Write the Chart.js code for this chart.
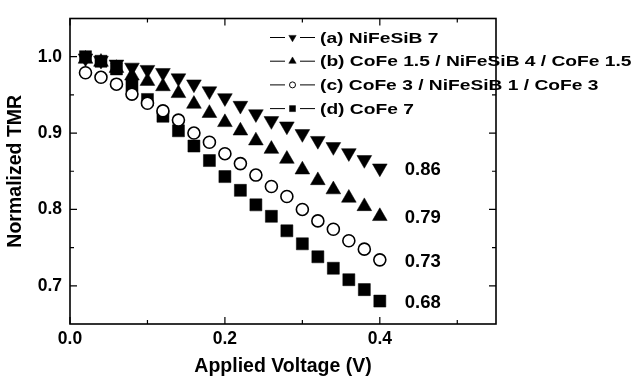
<!DOCTYPE html>
<html lang="en">
<head>
  <meta charset="UTF-8" />
  <title>Normalized TMR vs Applied Voltage</title>
  <script src="https://cdn.jsdelivr.net/npm/chart.js"></script>
  <style>
    html, body { margin: 0; padding: 0; background: #fff; }
    #chart { display: block; }
  </style>
</head>
<body>
  <canvas id="chart" width="634" height="378"></canvas>

<script>
  // data
  const voltage = [0.02, 0.04, 0.06, 0.08, 0.10, 0.12, 0.14, 0.16, 0.18, 0.20,
                   0.22, 0.24, 0.26, 0.28, 0.30, 0.32, 0.34, 0.36, 0.38, 0.40];
  const tmrA = [0.998, 0.995, 0.990, 0.986, 0.983, 0.979, 0.972, 0.964, 0.955, 0.946,
                0.936, 0.925, 0.916, 0.909, 0.899, 0.890, 0.882, 0.874, 0.865, 0.854];
  const tmrB = [0.997, 0.993, 0.985, 0.975, 0.968, 0.961, 0.952, 0.938, 0.926, 0.914,
                0.903, 0.890, 0.879, 0.866, 0.852, 0.838, 0.826, 0.815, 0.804, 0.791];
  const tmrC = [0.979, 0.973, 0.964, 0.951, 0.939, 0.929, 0.917, 0.900, 0.888, 0.873,
                0.860, 0.845, 0.830, 0.817, 0.800, 0.785, 0.774, 0.759, 0.748, 0.734];
  const tmrD = [1.000, 0.994, 0.984, 0.962, 0.944, 0.922, 0.903, 0.883, 0.864, 0.843,
                0.825, 0.806, 0.791, 0.772, 0.755, 0.738, 0.723, 0.708, 0.695, 0.680];

  const seriesNames = ["(a) NiFeSiB 7", "(b) CoFe 1.5 / NiFeSiB 4 / CoFe 1.5",
                       "(c) CoFe 3 / NiFeSiB 1 / CoFe 3", "(d) CoFe 7"];
  const endLabels = ["0.86", "0.79", "0.73", "0.68"];

  const xTicks = [0, 0.2, 0.4];
  const xMinor = [0.1, 0.3, 0.5];
  const yTicks = [0.7, 0.8, 0.9, 1.0];
  const yMinor = [0.75, 0.85, 0.95];

  const FONT = "'Liberation Sans', Arial, sans-serif";

  function toPoints(ys) {
    return voltage.map((v, i) => ({ x: v, y: ys[i] }));
  }

  const markers = [
    { style: "triangle", rot: 180, r: 8.5, fill: "#000" },
    { style: "triangle", rot: 0, r: 8.5, fill: "#000" },
    { style: "circle", rot: 0, r: 6, fill: "#fff" },
    { style: "rect", rot: 0, r: 8.5, fill: "#000" }
  ];

  const datasets = [tmrA, tmrB, tmrC, tmrD].map((ys, k) => ({
    label: seriesNames[k],
    data: toPoints(ys),
    showLine: false,
    pointStyle: markers[k].style,
    pointRotation: markers[k].rot,
    pointRadius: markers[k].r,
    pointBackgroundColor: markers[k].fill,
    pointBorderColor: "#000",
    pointBorderWidth: k === 2 ? 1.6 : 0.5
  }));

  // frame, inward ticks, legend and end labels
  const extras = {
    id: "extras",
    afterDatasetsDraw(chart) {
      const ctx = chart.ctx;
      const xs = chart.scales.x, ys = chart.scales.y;
      const a = chart.chartArea;

      // end labels next to last point
      ctx.save();
      ctx.fillStyle = "#000";
      ctx.font = "bold 18.5px " + FONT;
      ctx.textAlign = "left";
      ctx.textBaseline = "middle";
      chart.data.datasets.forEach((ds, k) => {
        const last = ds.data[ds.data.length - 1];
        ctx.fillText(endLabels[k], xs.getPixelForValue(last.x) + 25, ys.getPixelForValue(last.y) + 2);
      });

      // legend (text is drawn wide, like the figure)
      const lx = a.left + 200, ly = a.top + 19, step = 23.7;
      chart.data.datasets.forEach((ds, k) => {
        const y = ly + k * step;
        ctx.strokeStyle = "#000";
        ctx.lineWidth = 1;
        ctx.beginPath();
        ctx.moveTo(lx, y); ctx.lineTo(lx + 15, y);
        ctx.moveTo(lx + 30, y); ctx.lineTo(lx + 45, y);
        ctx.stroke();
        ctx.fillStyle = markers[k].fill;
        ctx.lineWidth = k === 2 ? 1 : 0.5;
        Chart.helpers.drawPoint(ctx, {
          pointStyle: markers[k].style,
          rotation: markers[k].rot,
          radius: markers[k].r * 0.5,
          borderWidth: ctx.lineWidth
        }, lx + 22.5, y);
        ctx.save();
        ctx.fillStyle = "#000";
        ctx.font = "bold 15px " + FONT;
        ctx.translate(lx + 50, y + 1);
        ctx.scale(1.28, 1);
        ctx.fillText(ds.label, 0, 0);
        ctx.restore();
      });
      ctx.restore();
    },
    afterDraw(chart) {
      const ctx = chart.ctx;
      const xs = chart.scales.x, ys = chart.scales.y;
      const a = chart.chartArea;
      ctx.save();
      ctx.strokeStyle = "#000";
      ctx.lineWidth = 1.6;
      ctx.strokeRect(a.left, a.top, a.right - a.left, a.bottom - a.top);

      ctx.lineWidth = 1.2;
      ctx.beginPath();
      const tickX = (v, len) => {
        const p = xs.getPixelForValue(v);
        ctx.moveTo(p, a.bottom); ctx.lineTo(p, a.bottom - len);
        ctx.moveTo(p, a.top); ctx.lineTo(p, a.top + len);
      };
      const tickY = (v, len) => {
        const p = ys.getPixelForValue(v);
        ctx.moveTo(a.left, p); ctx.lineTo(a.left + len, p);
        ctx.moveTo(a.right, p); ctx.lineTo(a.right - len, p);
      };
      xTicks.forEach(v => tickX(v, 7));
      xMinor.forEach(v => tickX(v, 4));
      yTicks.forEach(v => tickY(v, 7));
      yMinor.forEach(v => tickY(v, 4));
      ctx.stroke();
      ctx.restore();
    }
  };

  new Chart(document.getElementById("chart"), {
    type: "scatter",
    data: { datasets },
    options: {
      responsive: false,
      animation: false,
      devicePixelRatio: 1,
      layout: { padding: { left: 0, top: 11, right: 138, bottom: 0 } },
      plugins: {
        legend: { display: false },
        tooltip: { enabled: false }
      },
      scales: {
        x: {
          type: "linear",
          min: 0,
          max: 0.55,
          afterBuildTicks: s => { s.ticks = xTicks.map(v => ({ value: v })); },
          afterFit: s => { s.height = 54; },
          grid: { display: false, drawTicks: false },
          border: { display: false },
          ticks: {
            padding: 5,
            color: "#000",
            font: { family: FONT, size: 17.5, weight: "bold" },
            callback: v => v.toFixed(1)
          },
          title: {
            display: true,
            text: "Applied Voltage (V)",
            color: "#000",
            font: { family: FONT, size: 19.5, weight: "bold", lineHeight: 1.2 },
            padding: { top: 0, bottom: 0 }
          }
        },
        y: {
          type: "linear",
          min: 0.65,
          max: 1.05,
          afterBuildTicks: s => { s.ticks = yTicks.map(v => ({ value: v })); },
          afterFit: s => { s.width = 70; },
          grid: { display: false, drawTicks: false },
          border: { display: false },
          ticks: {
            padding: 8,
            color: "#000",
            font: { family: FONT, size: 17.5, weight: "bold" },
            callback: v => v.toFixed(1)
          },
          title: {
            display: true,
            text: "Normalized TMR",
            color: "#000",
            font: { family: FONT, size: 19.5, weight: "bold", lineHeight: 1.2 },
            padding: { top: 4, bottom: 0 }
          }
        }
      }
    },
    plugins: [extras]
  });
</script>
</body>
</html>
